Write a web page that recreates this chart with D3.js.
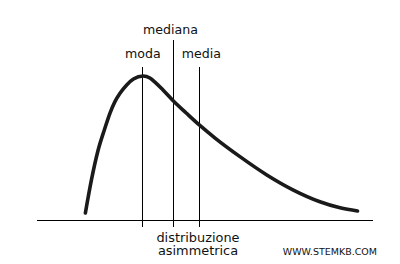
<!DOCTYPE html>
<html>
<head>
<meta charset="utf-8">
<script src="https://cdn.jsdelivr.net/npm/d3@7"></script>
<style>
  html, body { margin: 0; padding: 0; background: #fff; }
  svg { display: block; font-family: 'DejaVu Sans', Verdana, sans-serif; }
</style>
</head>
<body>
<div id="chart"></div>
<script>
// curve (x: 0-100 along the axis, y: 0-100 peak height)
const curveX = [14.4, 16.2, 18.2, 20.2, 21.7, 23.2, 24.7, 26.7, 28.7, 31.6, 33.6, 35.1,
  37.5, 40.6, 44.4, 48.3, 53.0, 60.4, 68.4, 76.3, 84.2, 90.2, 95.4];
const curveY = [4.9, 27.8, 48.6, 63.7, 74.1, 82.2, 88.0, 93.8, 97.9, 100, 98.6, 95.8,
  90.3, 82.6, 74.3, 66.0, 56.9, 44.0, 31.3, 20.8, 12.7, 8.5, 6.3];

const markerNames = ['moda', 'mediana', 'media'];
const markerValues = [31.5, 40.6, 48.3];
const markerTier = [0, 1, 0];

const captionLines = ['distribuzione', 'asimmetrica'];
const credit = 'WWW.STEMKB.COM';

const width = 400,
  height = 264;

const x = d3.scaleLinear().domain([0, 100]).range([37, 373]);
const y = d3.scaleLinear().domain([0, 100]).range([220, 76]);

const svg = d3.select('#chart')
  .append('svg')
  .attr('width', width)
  .attr('height', height);

// baseline axis, no ticks
svg.append('line')
  .attr('x1', x(0))
  .attr('x2', x(100))
  .attr('y1', Math.floor(y(0)) + 0.5)
  .attr('y2', Math.floor(y(0)) + 0.5)
  .attr('stroke', '#000')
  .attr('stroke-width', 1);

// marker lines
const lineTop = [67, 40];
const labelBase = [57.5, 33.5];
const labelShift = [0, -3, 2];

svg.selectAll('.marker')
  .data(markerValues)
  .join('line')
  .attr('class', 'marker')
  .attr('x1', (d) => Math.floor(x(d)) + 0.5)
  .attr('x2', (d) => Math.floor(x(d)) + 0.5)
  .attr('y1', (d, i) => lineTop[markerTier[i]])
  .attr('y2', 227)
  .attr('stroke', '#000')
  .attr('stroke-width', 1);

svg.selectAll('.marker-label')
  .data(markerNames)
  .join('text')
  .attr('class', 'marker-label')
  .attr('x', (d, i) => x(markerValues[i]) + labelShift[i])
  .attr('y', (d, i) => labelBase[markerTier[i]])
  .attr('text-anchor', 'middle')
  .attr('font-size', '12.6px')
  .attr('fill', '#111')
  .text((d) => d);

// the skewed curve
const pts = curveX.map((v, i) => [v, curveY[i]]);
const line = d3.line()
  .x((d) => x(d[0]))
  .y((d) => y(d[1]))
  .curve(d3.curveMonotoneX);

svg.append('path')
  .datum(pts)
  .attr('d', line)
  .attr('fill', 'none')
  .attr('stroke', '#1a1a1a')
  .attr('stroke-width', 3.6)
  .attr('stroke-linecap', 'round');

// caption under the axis
svg.append('text')
  .attr('x', 198)
  .attr('y', 241.5)
  .attr('text-anchor', 'middle')
  .attr('font-size', '12.9px')
  .attr('fill', '#111')
  .selectAll('tspan')
  .data(captionLines)
  .join('tspan')
  .attr('x', 198)
  .attr('dy', (d, i) => (i ? 13.5 : 0))
  .text((d) => d);

svg.append('text')
  .attr('x', 377)
  .attr('y', 255)
  .attr('text-anchor', 'end')
  .attr('font-size', '9.5px')
  .attr('fill', '#111')
  .text(credit);
</script>
</body>
</html>
